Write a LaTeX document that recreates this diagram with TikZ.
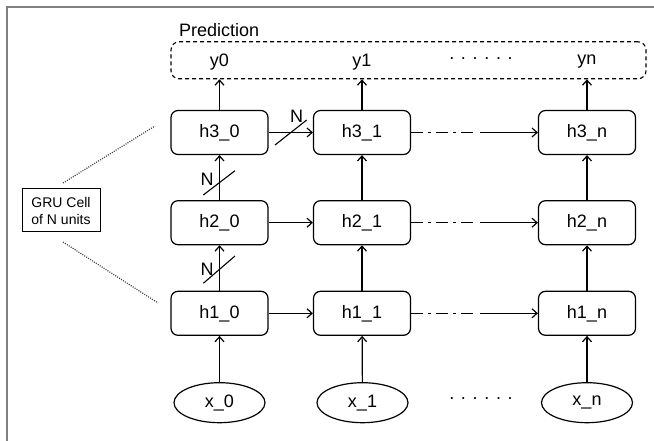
\documentclass[tikz,border=0pt]{standalone}
\usepackage{fontspec}
\setmainfont{Liberation Sans}
\usetikzlibrary{arrows.meta,calc,shapes.geometric}
\begin{document}
\begin{tikzpicture}[x=1pt,y=-1pt,
  cell/.style={draw,rounded corners=7pt,minimum width=97pt,minimum height=44pt,line width=1.2pt,font=\fontsize{18}{20}\selectfont,inner sep=0pt},
  inp/.style={draw,ellipse,minimum width=91pt,minimum height=40pt,line width=1.2pt,font=\fontsize{18}{20}\selectfont,inner sep=0pt},
  lab/.style={font=\fontsize{18}{20}\selectfont,inner sep=0pt},
  arr/.style={line width=1.2pt,-{Straight Barb[length=5pt,width=9pt]}},
  dashdotline/.style={line width=1.2pt,dash pattern=on 12pt off 5pt on 3pt off 5pt},
  slash/.style={line width=1.1pt},
  dotline/.style={line width=1.2pt,dash pattern=on 1pt off 1.3pt,black!75}]
\useasboundingbox (0,0) rectangle (654,441);
\draw[gray,line width=2pt] (6.7,441) -- (6.7,7.3) -- (654,7.3);

% prediction box
\node[draw,dash pattern=on 4pt off 3pt,rounded corners=8pt,line width=1.1pt,minimum width=475pt,minimum height=37pt,inner sep=0pt] (pred) at (408.5,60.3) {};
\node[lab,anchor=west] (predlab) at (179,30) {Prediction};
\node[lab] (y0) at (219.5,62) {y0};
\node[lab] (y1) at (362,62) {y1};
\node[lab] (yd) at (481,59) {. . . . . .};
\node[lab] (yn) at (587,62) {yn};

% cells
\foreach \r/\y in {3/132.5,2/222.7,1/313.3}{
  \node[cell] (h\r0) at (219.5,\y) {h\r\_0};
  \node[cell] (h\r1) at (362,\y) {h\r\_1};
  \node[cell] (h\r n) at (587,\y) {h\r\_n};
}
\node[inp] (x0) at (219.5,402.7) {x\_0};
\node[inp] (x1) at (362.5,402.7) {x\_1};
\node[lab] (xd) at (481,399) {. . . . . .};
\node[inp] (xn) at (587,402.7) {x\_n};

% GRU box
\node[draw,line width=1pt,align=center,font=\fontsize{14}{17}\selectfont,minimum width=78pt,minimum height=43pt,inner sep=0pt] (gru) at (61,210.5) {GRU Cell\\of N units};
\coordinate (ga) at (63,183);
\coordinate (gb) at (155,126);
\coordinate (gc) at (63,242);
\coordinate (gd) at (158,303);
\draw[dotline] (ga) -- (gb);
\draw[dotline] (gc) -- (gd);

% vertical arrows
\foreach \c in {0,1,n}{
  \draw[arr] (x\c) -- (h1\c);
  \draw[arr] (h1\c) -- (h2\c);
  \draw[arr] (h2\c) -- (h3\c);
  \draw[arr] (h3\c.north) -- (h3\c.north |- pred.south);
}
% horizontal arrows
\foreach \r in {1,2,3}{
  \draw[arr] (h\r0) -- (h\r1);
  \draw[dashdotline] (h\r1.east) -- ++(62,0) coordinate (m\r);
  \coordinate (s\r) at ($(m\r)+(7,0)$);
  \draw[arr] (s\r) -- (h\r n.west);
}

% N slashes
\draw[slash] (275,145) -- (306.7,120);
\node[lab] (n1) at (296.7,116.5) {N};
\draw[slash] (203.3,195) -- (235,170.7);
\node[lab] (n2) at (207,179.3) {N};
\draw[slash] (203.3,283.3) -- (235,256);
\node[lab] (n3) at (207,269.3) {N};
\end{tikzpicture}
\end{document}
